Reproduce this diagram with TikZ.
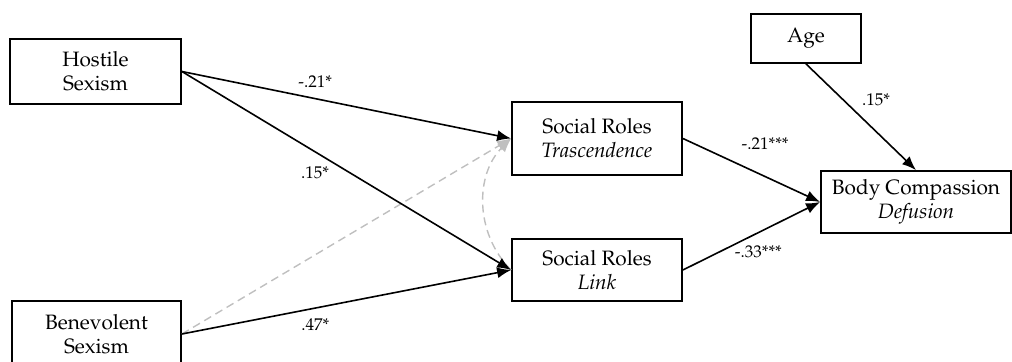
\documentclass[tikz,border=0pt]{standalone}
\IfFileExists{mathpazo.sty}{\usepackage[T1]{fontenc}\usepackage{mathpazo}}{}
\usepackage{tikz}
\usetikzlibrary{arrows.meta}

\begin{document}
\begin{tikzpicture}[x=0.5pt, y=-0.5pt,
    var/.style={draw, line width=0.9pt, align=center, inner sep=0pt, font=\fontsize{10.4}{12}\selectfont},
    effect/.style={line width=0.8pt, -{Latex[length=7pt,width=5.5pt]}},
    cov/.style={draw=black!25, dash pattern=on 4pt off 2.5pt, line width=0.7pt, -{Latex[length=7pt,width=5.5pt]}},
    coef/.style={font=\fontsize{8.5}{9}\selectfont, inner sep=1pt}]
    \useasboundingbox (0,0) rectangle (1012,362);
    \node[var, minimum width=85.5pt, minimum height=32.5pt] (hostile) at (95.5,71.5) {Hostile\\Sexism};
    \node[var, minimum width=84.5pt, minimum height=33pt] (benevolent) at (96.5,334) {Benevolent\\Sexism};
    \node[var, minimum width=85pt, minimum height=36.5pt] (trasc) at (597,138.5) {Social Roles\\\textit{Trascendence}};
    \node[var, minimum width=85pt, minimum height=31pt] (link) at (597,270) {Social Roles\\\textit{Link}};
    \node[var, minimum width=55pt, minimum height=24.5pt] (age) at (806,38.5) {Age};
    \node[var, minimum width=95pt, minimum height=31pt] (body) at (916,202) {Body Compassion\\\textit{Defusion}};
    \draw[cov] (benevolent.east) -- (trasc.west);
    \draw[cov] (link.west) to[bend left=45] (trasc.west);
    \draw[effect] (hostile.east) -- (trasc.west) node[coef, pos=0.405, above=4pt] {-.21*};
    \draw[effect] (hostile.east) -- (link.west) node[coef, pos=0.51, left=9pt] {.15*};
    \draw[effect] (benevolent.east) -- (link.west) node[coef, pos=0.405, below=4pt] {.47*};
    \draw[effect] (trasc.east) -- (body.west) node[coef, pos=0.35, above right=4pt] {-.21***};
    \draw[effect] (link.east) -- (body.west) node[coef, pos=0.55, below=5pt] {-.33***};
    \draw[effect] (age.south) -- (body.north) node[coef, pos=0.34, right=8pt] {.15*};
\end{tikzpicture}
\end{document}
